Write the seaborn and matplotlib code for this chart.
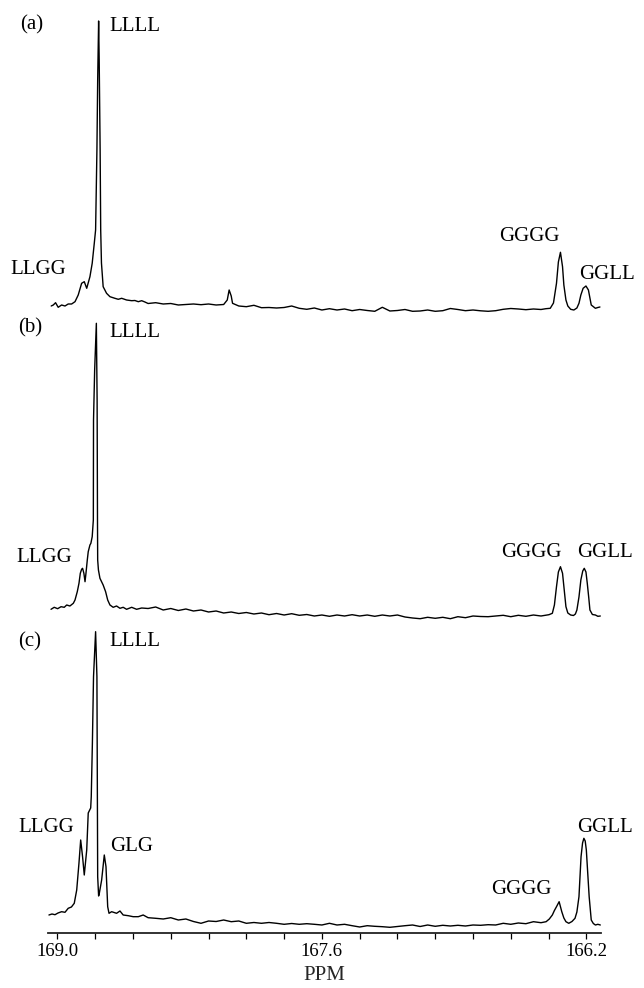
import matplotlib
matplotlib.use("Agg")
import matplotlib.pyplot as plt
import numpy as np
import pandas as pd
import seaborn as sns

# ---------------- data (chemical shift in ppm, intensity in arbitrary units) ----------------
grid_ppm = [168.52, 168.48, 168.44, 168.40, 168.36, 168.32, 168.28, 168.24, 168.20, 168.16,
            168.12, 168.08, 168.04, 168.00, 167.96, 167.92, 167.88, 167.84, 167.80, 167.76,
            167.72, 167.68, 167.64, 167.60, 167.56, 167.52, 167.48, 167.44, 167.40, 167.36,
            167.32, 167.28, 167.24, 167.20, 167.16, 167.12, 167.08, 167.04, 167.00, 166.96,
            166.92, 166.88, 166.84, 166.80, 166.76, 166.72, 166.68, 166.64, 166.60, 166.56,
            166.52, 166.48, 166.44]

# spectrum (a)
a_peak_ppm = [169.033, 169.022, 169.010, 168.996, 168.978, 168.960, 168.943, 168.925, 168.907, 168.890,
              168.872, 168.858, 168.845, 168.828, 168.816, 168.805, 168.798, 168.791, 168.787, 168.782,
              168.779, 168.774, 168.771, 168.767, 168.758, 168.740, 168.722, 168.696, 168.678, 168.660,
              168.634, 168.607, 168.590, 168.572, 168.554, 168.537,
              168.101, 168.091, 168.073,
              166.414, 166.391, 166.374, 166.358, 166.348, 166.337, 166.326, 166.319, 166.308, 166.298,
              166.283, 166.266, 166.250, 166.239, 166.229, 166.217, 166.202, 166.189, 166.181, 166.174,
              166.152, 166.139, 166.128]
a_peak_int = [2, 3, 5.3, 0.7, 3, 2, 4, 4, 6.3, 13,
              24.7, 26.3, 19.7, 31.3, 44.7, 64.7, 78, 158, 228, 287,
              248, 158, 78, 45, 21.3, 14.7, 11.3, 9.7, 8.7, 9.7,
              8, 7.3, 7.5, 6.3, 7.3, 6,
              8, 18, 4.7,
              -0.7, -0.3, 5, 24.7, 46, 55.7, 41.3, 23, 8, 2,
              -1.3, -2, 0, 4.7, 13, 19.7, 22, 18, 10, 3,
              -0.3, 0.5, 1]
a_grid_int = [4.5, 5.3, 4, 4.5, 3, 3.5, 4, 3.3, 4, 3,
              3.5, 12, 2, 1.3, 2.7, 0.3, 0.5, 0, 0.5, 2,
              -0.3, -1.3, 0, -2, -0.7, -2, -1, -2.7, -1.5, -2.5,
              -3.3, 0.7, -3, -2.5, -1.5, -3.3, -3, -2, -3.3, -2.7,
              -0.5, -1.5, -2.7, -2, -2.8, -3.3, -2.7, -1.3, -0.5, -1,
              -1.7, -1, -1.5]

# spectrum (b)
b_peak_ppm = [169.034, 169.017, 168.999, 168.981, 168.964, 168.951, 168.934, 168.916, 168.907, 168.895,
              168.886, 168.879, 168.872, 168.867, 168.860, 168.854, 168.849, 168.842, 168.837, 168.828,
              168.823, 168.816, 168.810, 168.809, 168.803, 168.794, 168.790, 168.788, 168.787, 168.783,
              168.775, 168.758, 168.745, 168.734, 168.722, 168.705, 168.687, 168.669, 168.652, 168.634,
              168.607, 168.581, 168.554,
              166.398, 166.380, 166.369, 166.358, 166.348, 166.337, 166.326, 166.317, 166.308, 166.298,
              166.283, 166.268, 166.258, 166.250, 166.239, 166.229, 166.219, 166.211, 166.202, 166.195,
              166.187, 166.181, 166.168, 166.152, 166.139, 166.126]
b_peak_int = [4.7, 6.7, 5.3, 7.3, 6.7, 9, 8, 10.7, 14, 22.3,
              30.7, 40.7, 44.7, 45.7, 40.7, 32.3, 40.7, 54, 62.3, 69,
              70.7, 77.3, 94, 194, 244, 290.7, 214, 94, 54, 44,
              35.7, 29, 22.3, 14, 9, 6.7, 8, 5.7, 6.7, 4.7,
              6.7, 4.7, 6,
              -0.7, 0.7, 9, 27.3, 42, 47.3, 40.7, 24, 7.3, 1,
              -1, -1.5, 0, 4, 17, 34, 43, 45.7, 42, 30.7,
              16, 4, -0.5, -1, -2.3, -2]
b_grid_int = [5.5, 7, 4, 5.5, 3.5, 5, 3, 4, 2, 3,
              1, 2, 0.5, 1.5, 0, 1, -0.7, 0.5, -1, 0.3,
              -1.3, -0.5, -2, -1, -2.3, -1, -2, -0.7, -2, -1,
              -2.3, -1, -2, -1, -3, -4, -4.7, -3.3, -4.3, -3.3,
              -4.7, -2.7, -3.7, -2, -2.5, -2.7, -2, -1.3, -2.7, -1.3,
              -2.3, -1, -2]

# spectrum (c)
c_peak_ppm = [169.045, 169.029, 169.013, 168.997, 168.978, 168.960, 168.943, 168.926, 168.911, 168.898,
              168.886, 168.877, 168.867, 168.858, 168.845, 168.837, 168.824, 168.821, 168.815, 168.809,
              168.798, 168.791, 168.789, 168.787, 168.782, 168.778, 168.766, 168.752, 168.743, 168.734,
              168.727, 168.713, 168.687, 168.669, 168.652, 168.625, 168.599, 168.572, 168.546,
              166.413, 166.396, 166.380, 166.369, 166.358, 166.344, 166.330, 166.319, 166.308, 166.293,
              166.276, 166.260, 166.250, 166.239, 166.228, 166.220, 166.213, 166.206, 166.200, 166.192,
              166.185, 166.174, 166.163, 166.152, 166.139, 166.126]
c_peak_int = [7, 8, 7.3, 9, 10.3, 9.7, 13.7, 15, 18.7, 32,
              59, 82, 65.3, 47, 72, 109, 114, 125.3, 179, 245.3,
              290.3, 245.3, 145.3, 45.3, 26, 29, 42, 67, 55.3, 15.3,
              8.7, 10.3, 8.7, 11, 7, 6.3, 5.3, 5.3, 7,
              0.3, 3, 7, 11.5, 15.3, 20.3, 10.3, 4, 0.3, -1.3,
              0.5, 3.7, 10, 25.3, 65.3, 79, 83.7, 81, 72, 47,
              25.3, 2, -1.5, -3, -2.3, -3]
c_grid_int = [4.3, 3.7, 3, 4.3, 2, 3, 0.5, -1.3, 1, 0.5,
              2, 0.3, 1, -1.3, -0.5, -1.3, -0.5, -1.3, -2.3, -1.5,
              -2.3, -1.7, -2.3, -3, -1.3, -3, -2.3, -3.7, -5, -3.7,
              -4.3, -4.7, -5.3, -4.5, -3.7, -3, -4.5, -3, -4.3, -3.3,
              -4, -3.3, -4, -3, -3.3, -2.7, -3, -1.3, -2.3, -1,
              -1.7, 0.3, -0.7]

# peak assignment labels
a_labels = ["(a)", "LLLL", "LLGG", "GGGG", "GGLL"]
b_labels = ["(b)", "LLLL", "LLGG", "GGGG", "GGLL"]
c_labels = ["(c)", "LLLL", "LLGG", "GLG", "GGGG", "GGLL"]

tick_values = [169.0, 168.8, 168.6, 168.4, 168.2, 168.0, 167.8, 167.6,
               167.4, 167.2, 167.0, 166.8, 166.6, 166.4, 166.2]
tick_labels = ["169.0", "", "", "", "", "", "", "167.6",
               "", "", "", "", "", "", "166.2"]
x_label = "PPM"

# ---------------- layout ----------------
label_pos = {
    "a": [(169.196, 283), (168.727, 281), (169.251, 38), (166.663, 71), (166.239, 33)],
    "b": [(169.206, 286), (168.727, 281), (169.218, 56), (166.652, 61), (166.250, 61)],
    "c": [(169.206, 280), (168.727, 280), (169.206, 94), (168.722, 75), (166.705, 32), (166.250, 94)],
}

sns.set_style("white")
plt.rcParams["font.family"] = ["Liberation Serif", "DejaVu Serif"]

fig = plt.figure(figsize=(6.44, 9.88), dpi=100)

left, width = 48 / 644, 552.5 / 644
panels = [
    ("a", a_peak_ppm, a_peak_int, a_grid_int, a_labels, (left, 0.67308, width, 0.31883), (-15, 300)),
    ("b", b_peak_ppm, b_peak_int, b_grid_int, b_labels, (left, 0.36336, width, 0.31883), (-15, 300)),
    ("c", c_peak_ppm, c_peak_int, c_grid_int, c_labels, (left, 0.05567, width, 0.31478), (-11, 300)),
]

for key, pk_ppm, pk_int, gr_int, labels, pos, ylim in panels:
    df = pd.DataFrame({"ppm": list(pk_ppm) + list(grid_ppm),
                       "intensity": list(pk_int) + list(gr_int)})
    df = df.sort_values("ppm", ascending=False).reset_index(drop=True)
    ax = fig.add_axes(pos)
    ax.patch.set_alpha(0)
    sns.lineplot(data=df, x="ppm", y="intensity", ax=ax, color="black",
                 linewidth=1.0, estimator=None, sort=False)
    ax.set_xlim(169.05, 166.125)
    ax.set_ylim(*ylim)
    for lab, (px, py) in zip(labels, label_pos[key]):
        ax.text(px, py, lab, fontsize=15, ha="left", va="center", color="black")
    if key != "c":
        ax.axis("off")
    else:
        for s in ["left", "top", "right"]:
            ax.spines[s].set_visible(False)
        ax.spines["bottom"].set_color("#222222")
        ax.spines["bottom"].set_linewidth(1.3)
        ax.set_yticks([])
        ax.set_ylabel("")
        ax.set_xticks(tick_values)
        ax.set_xticklabels(tick_labels)
        ax.tick_params(axis="x", bottom=True, direction="out", length=4,
                       width=0.9, pad=3.5, labelsize=13.5, colors="black")
        ax.set_xlabel(x_label, fontsize=15, labelpad=4)

fig.savefig("out.png", dpi=100)
